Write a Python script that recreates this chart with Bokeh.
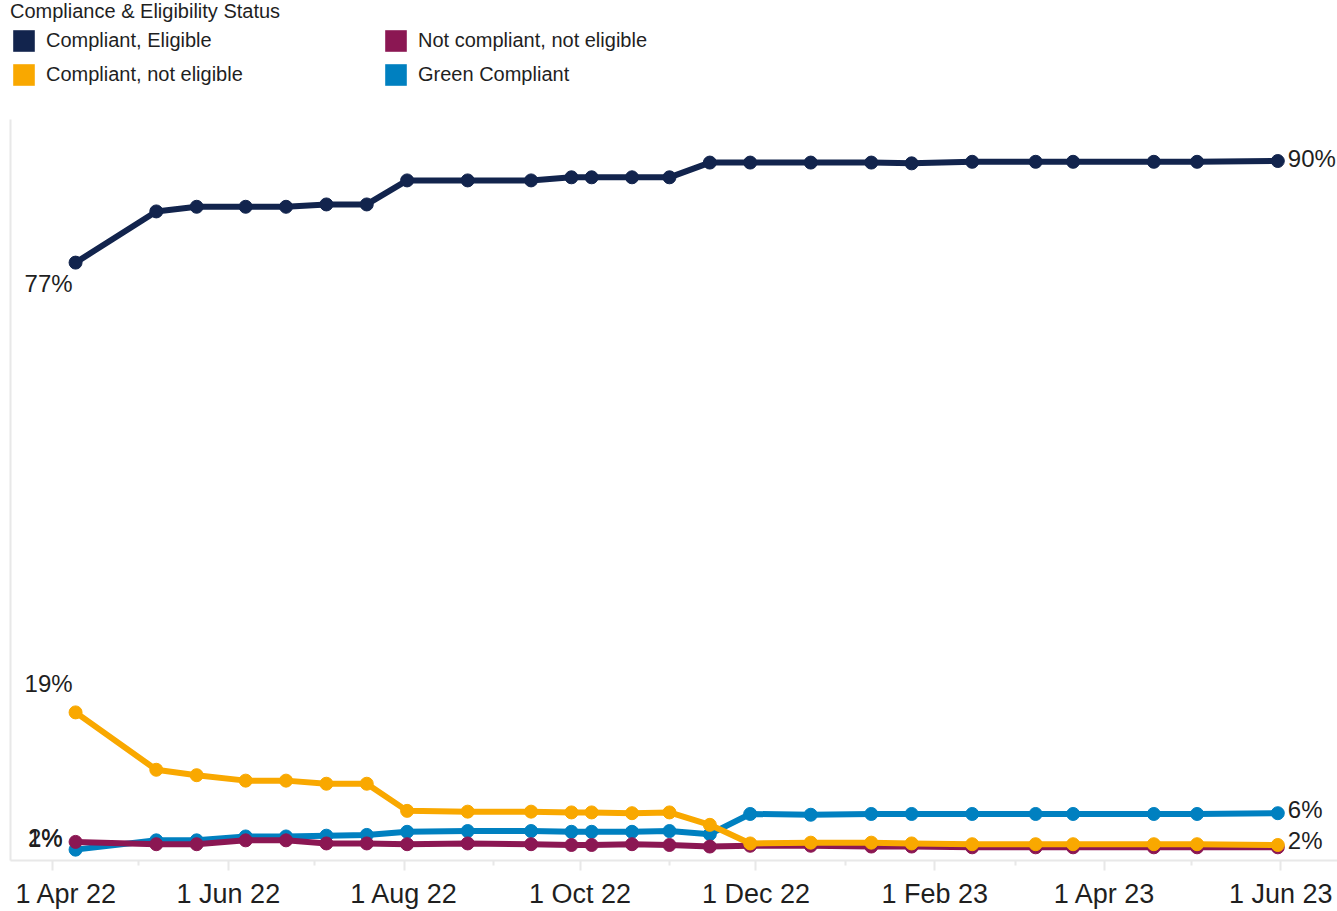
import pandas as pd
from bokeh.plotting import figure
from bokeh.models import Range1d, FixedTicker, Legend, LegendItem, ColumnDataSource
from bokeh.core.properties import value
from bokeh.embed import file_html
from bokeh.resources import INLINE

# ---------------- data ----------------
dates = ["2022-04-09", "2022-05-07", "2022-05-21", "2022-06-07", "2022-06-21",
         "2022-07-05", "2022-07-19", "2022-08-02", "2022-08-23", "2022-09-14",
         "2022-09-28", "2022-10-05", "2022-10-19", "2022-11-01", "2022-11-15",
         "2022-11-29", "2022-12-20", "2023-01-10", "2023-01-24", "2023-02-14",
         "2023-03-08", "2023-03-21", "2023-04-18", "2023-05-03", "2023-05-31"]

compliant_eligible = [77.1, 83.7, 84.3, 84.3, 84.3, 84.6, 84.6, 87.7, 87.7, 87.7,
                      88.1, 88.1, 88.1, 88.1, 90.0, 90.0, 90.0, 90.0, 89.9, 90.1,
                      90.1, 90.1, 90.1, 90.1, 90.2]
compliant_not_eligible = [19.1, 11.7, 11.0, 10.3, 10.3, 9.9, 9.9, 6.4, 6.3, 6.3,
                          6.2, 6.2, 6.1, 6.2, 4.6, 2.2, 2.3, 2.3, 2.2, 2.1,
                          2.1, 2.1, 2.1, 2.1, 2.0]
not_compliant_not_eligible = [2.4, 2.1, 2.1, 2.6, 2.6, 2.2, 2.2, 2.1, 2.2, 2.1,
                              2.0, 2.0, 2.1, 2.0, 1.8, 1.9, 1.9, 1.8, 1.8, 1.7,
                              1.7, 1.7, 1.7, 1.7, 1.7]
green_compliant = [1.4, 2.6, 2.6, 3.1, 3.1, 3.2, 3.3, 3.7, 3.8, 3.8,
                   3.7, 3.7, 3.7, 3.8, 3.4, 6.0, 5.9, 6.0, 6.0, 6.0,
                   6.0, 6.0, 6.0, 6.0, 6.1]

series_names = ["Compliant, Eligible", "Compliant, not eligible",
                "Not compliant, not eligible", "Green Compliant"]
legend_title = "Compliance & Eligibility Status"

tick_dates = ["2022-04-01", "2022-06-01", "2022-08-01", "2022-10-01",
              "2022-12-01", "2023-02-01", "2023-04-01", "2023-06-01"]
tick_labels = ["1 Apr 22", "1 Jun 22", "1 Aug 22", "1 Oct 22",
               "1 Dec 22", "1 Feb 23", "1 Apr 23", "1 Jun 23"]
minor_tick_dates = ["2022-05-01", "2022-07-01", "2022-09-01", "2022-11-01",
                    "2023-01-01", "2023-03-01", "2023-05-01"]

# ---------------- styles ----------------
FONT = "Liberation Sans"
TEXT_COLOR = "#1f1f1f"
AXIS_GREY = "#e8e8e8"
colors = {
    "Compliant, Eligible": "#12244D",
    "Compliant, not eligible": "#F9A800",
    "Not compliant, not eligible": "#8B1753",
    "Green Compliant": "#0080C0",
}
values = {
    "Compliant, Eligible": compliant_eligible,
    "Compliant, not eligible": compliant_not_eligible,
    "Not compliant, not eligible": not_compliant_not_eligible,
    "Green Compliant": green_compliant,
}
start_off = {
    "Compliant, Eligible": (-3, 21),
    "Compliant, not eligible": (-3, -29),
    "Not compliant, not eligible": (-13, -4),
    "Green Compliant": (-13, -11),
}
end_off = {
    "Compliant, Eligible": (10, -3),
    "Compliant, not eligible": (10, -4),
    "Green Compliant": (10, -4),
}
draw_order = ["Compliant, Eligible", "Green Compliant",
              "Not compliant, not eligible", "Compliant, not eligible"]


def ms(d):
    return float(pd.Timestamp(d).value // 10**6)


x = [ms(d) for d in dates]

p = figure(width=1337, height=911, x_axis_type="datetime",
           output_backend="svg", toolbar_location=None,
           x_range=Range1d(ms("2022-03-17 10:20"), ms("2023-06-20 17:00")),
           y_range=Range1d(0, 110.9),
           min_border_left=10, min_border_right=0, min_border_top=0, min_border_bottom=51,
           background_fill_color="white", border_fill_color="white")
p.outline_line_color = None
p.xgrid.visible = False
p.ygrid.visible = False

# x axis (first label nudged right like the original, which keeps it off the edge)
label_map = {}
for i, (d, lab) in enumerate(zip(tick_dates, tick_labels)):
    label_map[ms(d)] = ("\u00a0" * 2 + lab) if i == 0 else lab
xa = p.xaxis[0]
xa.ticker = FixedTicker(ticks=[ms(d) for d in tick_dates],
                        minor_ticks=[ms(d) for d in minor_tick_dates])
xa.major_label_overrides = label_map
xa.axis_line_color = AXIS_GREY
xa.axis_line_width = 2
xa.major_tick_line_color = AXIS_GREY
xa.major_tick_line_width = 2
xa.major_tick_in = 0
xa.major_tick_out = 10
xa.minor_tick_line_color = AXIS_GREY
xa.minor_tick_line_width = 2
xa.minor_tick_in = 0
xa.minor_tick_out = 5
xa.major_label_text_font = FONT
xa.major_label_text_font_size = "27px"
xa.major_label_text_color = TEXT_COLOR
xa.major_label_standoff = 8

# y axis: plain line only, limited to the data area below the legend
ya = p.yaxis[0]
ya.ticker = FixedTicker(ticks=[0])
ya.major_label_overrides = {0: ""}
ya.major_label_text_font_size = "1px"
ya.major_tick_out = 0
ya.major_tick_in = 0
ya.minor_tick_out = 0
ya.minor_tick_in = 0
ya.major_label_standoff = 0
ya.axis_line_color = AXIS_GREY
ya.axis_line_width = 2
ya.bounds = (0, 95.5)

# lines + markers
for name in draw_order:
    src = ColumnDataSource(dict(x=x, y=values[name]))
    c = colors[name]
    p.line("x", "y", source=src, line_width=6, line_color=c, line_join="round")
    p.scatter("x", "y", source=src, size=13, fill_color=c, line_color=c)

# first / last value labels
for idx, offs, align in ((0, start_off, "right"), (-1, end_off, "left")):
    names = [n for n in draw_order if n in offs]
    src = ColumnDataSource(dict(
        x=[x[idx]] * len(names),
        y=[values[n][idx] for n in names],
        text=[f"{round(values[n][idx])}%" for n in names],
        xo=[offs[n][0] for n in names],
        yo=[offs[n][1] for n in names],
    ))
    p.text("x", "y", text="text", x_offset="xo", y_offset="yo", source=src,
           text_align=align, text_baseline="middle",
           text_font=value(FONT), text_font_size="24px", text_color=TEXT_COLOR)

# legend proxies (square swatches), hidden, anchored on the first data point
proxies = {}
for name in series_names:
    v0 = values[name][0]
    r = p.quad(left=[x[0]], right=[x[0]], top=[v0], bottom=[v0],
               fill_color=colors[name], line_color=None)
    r.visible = False
    proxies[name] = r

legend = Legend(
    items=[LegendItem(label=n, renderers=[proxies[n]]) for n in series_names],
    title=legend_title, ncols=2, orientation="vertical", location="top_left",
    click_policy="none",
    margin=0, padding=4, spacing=7, glyph_width=27, glyph_height=27,
    label_standoff=9, label_width=329, label_height=27,
    title_standoff=4, title_text_font=FONT, title_text_font_size="20px",
    title_text_font_style="normal", title_text_color=TEXT_COLOR,
    label_text_font=FONT, label_text_font_size="20px", label_text_color=TEXT_COLOR,
    border_line_color=None, background_fill_alpha=0,
)
p.add_layout(legend, "center")

open("out.html", "w").write(file_html(p, INLINE))
